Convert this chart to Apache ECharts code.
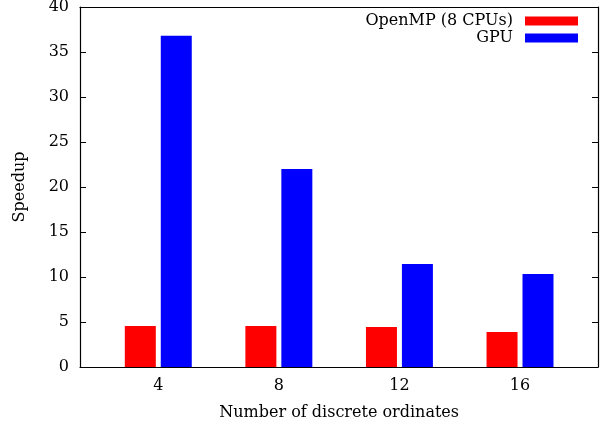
<!DOCTYPE html>
<html>
<head>
<meta charset="utf-8">
<script src="https://cdn.jsdelivr.net/npm/echarts@6/dist/echarts.min.js"></script>
<style>
html,body{margin:0;padding:0;background:#fff;}
#chart{width:608px;height:423px;}
</style>
</head>
<body>
<div id="chart"></div>
<script>
var categories = ['4', '8', '12', '16'];
var openmpValues = [4.56, 4.56, 4.44, 3.89];
var gpuValues = [36.8, 22.0, 11.44, 10.33];
var yTicks = [0, 5, 10, 15, 20, 25, 30, 35, 40];

var FONT = 'DejaVu Serif';
var FS = 16;
var chart = echarts.init(document.getElementById('chart'));
var tickStyle = {show: true, inside: true, length: 6, lineStyle: {color: '#000', width: 1}};
var lineStyle = {color: '#000', width: 1.2};

chart.setOption({
  animation: false,
  backgroundColor: '#fff',
  textStyle: {fontFamily: FONT},
  grid: [
    {left: 80, right: 10, top: 7, bottom: 56, containLabel: false, outerBoundsMode: 'none'},
    {left: 98, right: 27.7, top: 7, bottom: 56, containLabel: false, outerBoundsMode: 'none'}
  ],
  legend: [
    {
      data: ['OpenMP (8 CPUs)'], right: 30, top: 13, align: 'right',
      itemWidth: 53, itemHeight: 9, itemGap: 0, padding: 0,
      icon: 'rect', textStyle: {fontFamily: FONT, fontSize: FS, color: '#000', padding: [0, 7, 0, 0]},
      selectedMode: false
    },
    {
      data: ['GPU'], right: 30, top: 30, align: 'right',
      itemWidth: 53, itemHeight: 9, itemGap: 0, padding: 0,
      icon: 'rect', textStyle: {fontFamily: FONT, fontSize: FS, color: '#000', padding: [0, 7, 0, 0]},
      selectedMode: false
    }
  ],
  xAxis: [
    {gridIndex: 0, type: 'value', min: 0, max: 1, position: 'bottom',
     axisLine: {show: true, onZero: false, lineStyle: lineStyle}, axisTick: {show: false},
     axisLabel: {show: false}, splitLine: {show: false}},
    {gridIndex: 0, type: 'value', min: 0, max: 1, position: 'top',
     axisLine: {show: true, onZero: false, lineStyle: lineStyle}, axisTick: {show: false},
     axisLabel: {show: false}, splitLine: {show: false}},
    {gridIndex: 1, type: 'category', data: categories, position: 'bottom',
     axisLine: {show: false}, axisTick: {show: false}, splitLine: {show: false},
     axisLabel: {fontFamily: FONT, fontSize: FS, color: '#000', margin: 11},
     name: 'Number of discrete ordinates', nameLocation: 'middle', nameGap: 38,
     nameTextStyle: {fontFamily: FONT, fontSize: FS, color: '#000'}}
  ],
  yAxis: [
    {gridIndex: 0, type: 'value', min: yTicks[0], max: yTicks[yTicks.length - 1], interval: 5,
     position: 'left',
     axisLine: {show: true, onZero: false, lineStyle: lineStyle}, axisTick: tickStyle,
     axisLabel: {fontFamily: FONT, fontSize: FS, color: '#000', margin: 11},
     splitLine: {show: false},
     name: 'Speedup', nameLocation: 'middle', nameGap: 52, nameRotate: 90,
     nameTextStyle: {fontFamily: FONT, fontSize: FS, color: '#000'}},
    {gridIndex: 0, type: 'value', min: yTicks[0], max: yTicks[yTicks.length - 1], interval: 5,
     position: 'right',
     axisLine: {show: true, onZero: false, lineStyle: lineStyle}, axisTick: tickStyle,
     axisLabel: {show: false}, splitLine: {show: false}},
    {gridIndex: 1, type: 'value', min: 0, max: 40, show: false}
  ],
  series: [
    {name: 'OpenMP (8 CPUs)', type: 'bar', xAxisIndex: 2, yAxisIndex: 2,
     data: openmpValues, barWidth: 31, barGap: '16%',
     itemStyle: {color: '#ff0000'}},
    {name: 'GPU', type: 'bar', xAxisIndex: 2, yAxisIndex: 2,
     data: gpuValues, barWidth: 31, barGap: '16%',
     itemStyle: {color: '#0000ff'}}
  ]
});
</script>
</body>
</html>
